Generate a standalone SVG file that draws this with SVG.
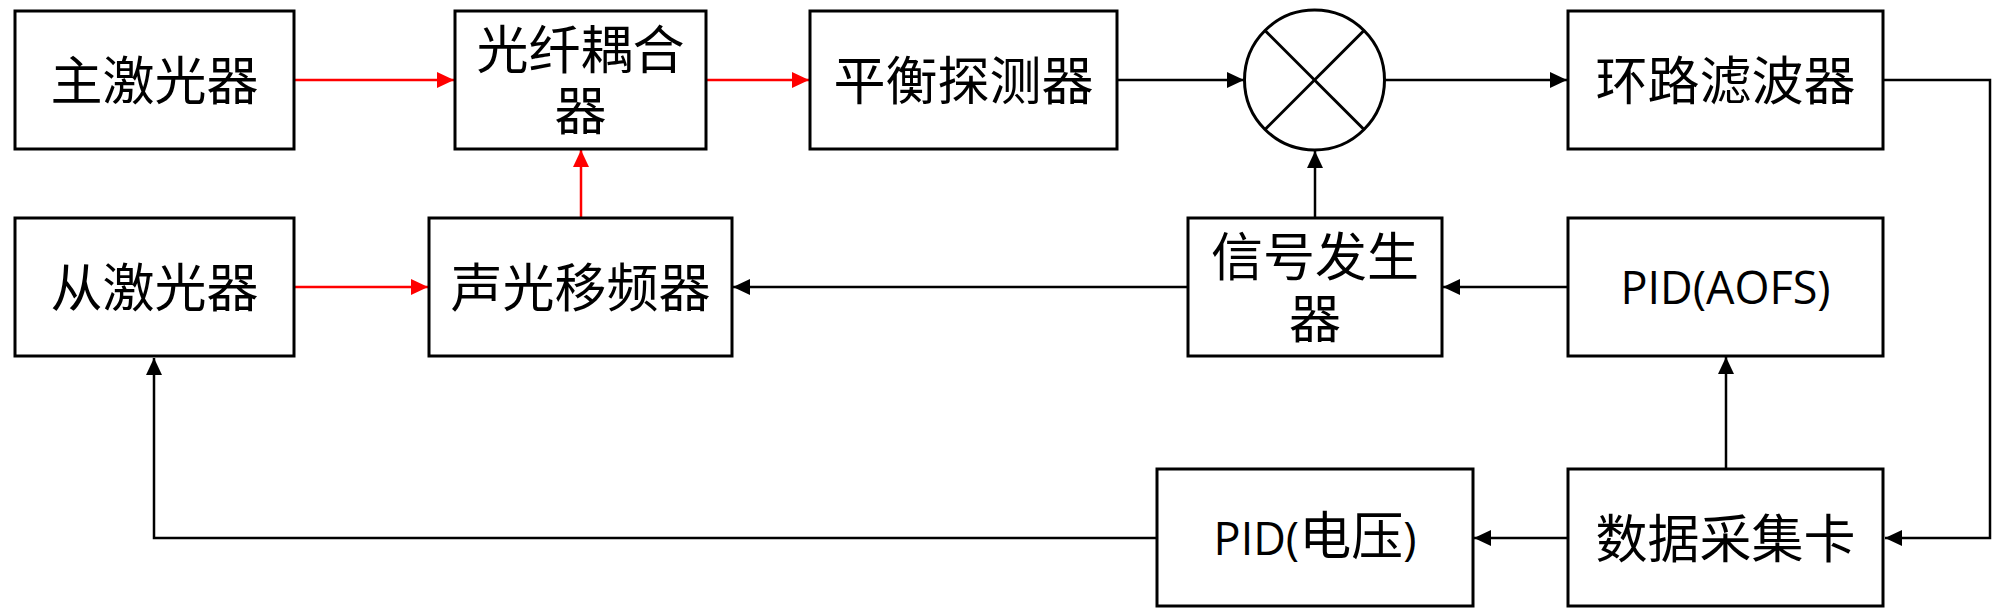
<svg xmlns="http://www.w3.org/2000/svg" width="2000" height="614" viewBox="0 0 2000 614">
<style>
.box{fill:#fff;stroke:#000;stroke-width:3}
.cjk{font-family:"Noto Sans CJK SC","Noto Sans",sans-serif;font-size:52px;fill:#000;text-anchor:middle}
.lat{font-family:"Open Sans","Noto Sans",sans-serif;font-size:45px;fill:#000;text-anchor:middle}
.red{fill:none;stroke:#FF0000;stroke-width:2.5}
.blk{fill:none;stroke:#000;stroke-width:2.5}
</style>
<defs>
<marker id="ar" markerUnits="userSpaceOnUse" markerWidth="18" markerHeight="16" refX="17" refY="8" orient="auto">
<path d="M0,0 L17,8 L0,16 z" fill="#FF0000"/>
</marker>
<marker id="ab" markerUnits="userSpaceOnUse" markerWidth="18" markerHeight="16" refX="17" refY="8" orient="auto">
<path d="M0,0 L17,8 L0,16 z" fill="#000"/>
</marker>
</defs>
<rect width="2000" height="614" fill="#fff"/>
<g id="connectors">
<line class="red" x1="295" y1="80" x2="454" y2="80" marker-end="url(#ar)"/>
<line class="red" x1="707" y1="80" x2="809" y2="80" marker-end="url(#ar)"/>
<line class="red" x1="581" y1="217" x2="581" y2="150" marker-end="url(#ar)"/>
<line class="red" x1="295" y1="287" x2="428" y2="287" marker-end="url(#ar)"/>
<line class="blk" x1="1118" y1="80" x2="1244" y2="80" marker-end="url(#ab)"/>
<line class="blk" x1="1385" y1="80" x2="1567" y2="80" marker-end="url(#ab)"/>
<line class="blk" x1="1315" y1="217" x2="1315" y2="151" marker-end="url(#ab)"/>
<path class="blk" d="M1884,80 H1990 V538 H1885" marker-end="url(#ab)"/>
<line class="blk" x1="1567" y1="287" x2="1443" y2="287" marker-end="url(#ab)"/>
<line class="blk" x1="1187" y1="287" x2="733" y2="287" marker-end="url(#ab)"/>
<line class="blk" x1="1726" y1="468" x2="1726" y2="357" marker-end="url(#ab)"/>
<line class="blk" x1="1567" y1="538" x2="1474" y2="538" marker-end="url(#ab)"/>
<path class="blk" d="M1156,538 H154 V358" marker-end="url(#ab)"/>
</g>
<g id="master-laser">
<rect class="box" x="15" y="11" width="279" height="138"/>
<text class="cjk" x="154.5" y="100">主激光器</text>
</g>
<g id="fiber-coupler">
<rect class="box" x="455" y="11" width="251" height="138"/>
<text class="cjk" x="580.5" y="69">光纤耦合<tspan x="580.5" dy="61">器</tspan></text>
</g>
<g id="balanced-detector">
<rect class="box" x="810" y="11" width="307" height="138"/>
<text class="cjk" x="963.5" y="100">平衡探测器</text>
</g>
<g id="mixer">
<circle cx="1314.5" cy="80" r="70" fill="#fff" stroke="#000" stroke-width="3"/>
<line x1="1265" y1="30.5" x2="1364" y2="129.5" stroke="#000" stroke-width="3"/>
<line x1="1364" y1="30.5" x2="1265" y2="129.5" stroke="#000" stroke-width="3"/>
</g>
<g id="loop-filter">
<rect class="box" x="1568" y="11" width="315" height="138"/>
<text class="cjk" x="1725.5" y="100">环路滤波器</text>
</g>
<g id="slave-laser">
<rect class="box" x="15" y="218" width="279" height="138"/>
<text class="cjk" x="154.5" y="307">从激光器</text>
</g>
<g id="aofs">
<rect class="box" x="429" y="218" width="303" height="138"/>
<text class="cjk" x="580.5" y="307">声光移频器</text>
</g>
<g id="signal-generator">
<rect class="box" x="1188" y="218" width="254" height="138"/>
<text class="cjk" x="1315" y="276">信号发生<tspan x="1315" dy="62">器</tspan></text>
</g>
<g id="pid-aofs">
<rect class="box" x="1568" y="218" width="315" height="138"/>
<text class="lat" x="1725.5" y="304">PID(AOFS)</text>
</g>
<g id="pid-voltage">
<rect class="box" x="1157" y="469" width="316" height="137"/>
<text class="lat" x="1315" y="555">PID(<tspan style="font-family:'Noto Sans CJK SC',sans-serif;font-size:52px">电压</tspan>)</text>
</g>
<g id="daq">
<rect class="box" x="1568" y="469" width="315" height="137"/>
<text class="cjk" x="1725.5" y="558">数据采集卡</text>
</g>
</svg>
